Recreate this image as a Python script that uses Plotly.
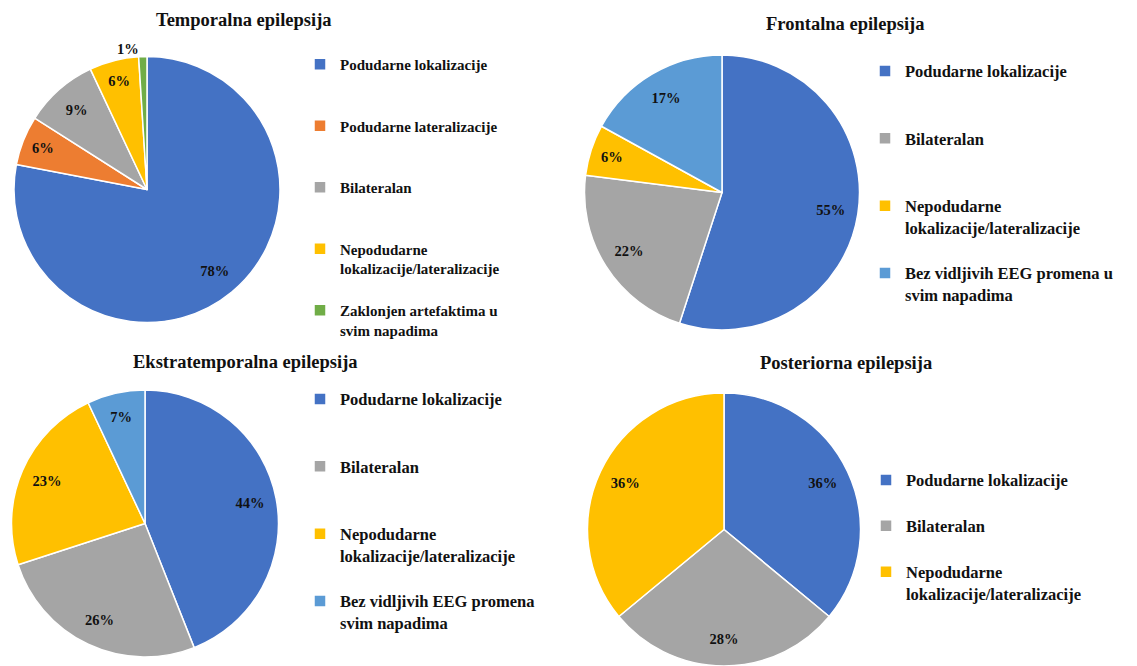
import plotly.graph_objects as go

# ---- data -------------------------------------------------------------
temporal_title = "Temporalna epilepsija"
temporal_labels = [
    "Podudarne lokalizacije",
    "Podudarne lateralizacije",
    "Bilateralan",
    "Nepodudarne<br>lokalizacije/lateralizacije",
    "Zaklonjen artefaktima u<br>svim napadima",
]
temporal_values = [78, 6, 9, 6, 1]

frontal_title = "Frontalna epilepsija"
frontal_labels = [
    "Podudarne lokalizacije",
    "Bilateralan",
    "Nepodudarne<br>lokalizacije/lateralizacije",
    "Bez vidljivih EEG promena u<br>svim napadima",
]
frontal_values = [55, 22, 6, 17]

extratemporal_title = "Ekstratemporalna epilepsija"
extratemporal_labels = [
    "Podudarne lokalizacije",
    "Bilateralan",
    "Nepodudarne<br>lokalizacije/lateralizacije",
    "Bez vidljivih EEG promena<br>svim napadima",
]
extratemporal_values = [44, 26, 23, 7]

posterior_title = "Posteriorna epilepsija"
posterior_labels = [
    "Podudarne lokalizacije",
    "Bilateralan",
    "Nepodudarne<br>lokalizacije/lateralizacije",
]
posterior_values = [36, 28, 36]

# ---- style ------------------------------------------------------------
BLUE, ORANGE, GRAY = "#4472C4", "#ED7D31", "#A5A5A5"
YELLOW, GREEN, LIGHTBLUE = "#FFC000", "#70AD47", "#5B9BD5"
FONT = "Liberation Serif"
INK = "#111111"
W, H = 1137, 666


def px_x(x):
    return x / W


def px_y(y):
    return 1 - y / H


def legend_entries(labels, total_lines, panel_no):
    """Pad legend entries with blank lines so they are spread out (the last
    one needs no padding), and tag them with zero-width characters so each
    panel keeps its own entries (pie legends merge identical labels)."""
    out = []
    for i, label in enumerate(labels):
        n = label.count("<br>") + 1
        pad = 0 if i == len(labels) - 1 else max(0, total_lines - n)
        out.append(label + "<br> " * pad + "\u200b" * panel_no)
    return out


panels = [
    dict(title=temporal_title, labels=temporal_labels, values=temporal_values,
         colors=[BLUE, ORANGE, GRAY, YELLOW, GREEN],
         outside={"Zaklonjen artefaktima u<br>svim napadima"},
         center=(147, 189.5), r=133, legend="legend",
         legend_pos=(300, 48), legend_size=15, legend_lines=3,
         title_pos=(244, 20)),
    dict(title=frontal_title, labels=frontal_labels, values=frontal_values,
         colors=[BLUE, GRAY, YELLOW, LIGHTBLUE], outside=set(),
         center=(722, 192.5), r=137.5, legend="legend2",
         legend_pos=(865, 53.7), legend_size=16.5, legend_lines=3,
         title_pos=(845, 24)),
    dict(title=extratemporal_title, labels=extratemporal_labels,
         values=extratemporal_values,
         colors=[BLUE, GRAY, YELLOW, LIGHTBLUE], outside=set(),
         center=(145, 523.5), r=133.5, legend="legend3",
         legend_pos=(300, 381.7), legend_size=16.5, legend_lines=3,
         title_pos=(245, 362)),
    dict(title=posterior_title, labels=posterior_labels, values=posterior_values,
         colors=[BLUE, GRAY, YELLOW], outside=set(),
         center=(724, 529.5), r=136.5, legend="legend4",
         legend_pos=(866, 462.7), legend_size=16.5, legend_lines=2,
         title_pos=(846, 363)),
]

fig = go.Figure()
layout_legends = {}
annotations = []

for k, p in enumerate(panels, start=1):
    cx, cy = p["center"]
    r = p["r"]
    domain = dict(x=[px_x(cx - r), px_x(cx + r)],
                  y=[max(0, px_y(cy + r)), min(1, px_y(cy - r))])
    entries = legend_entries(p["labels"], p["legend_lines"], k)

    # coloured slices (and the legend entries)
    fig.add_trace(go.Pie(
        labels=entries, values=p["values"], sort=False,
        direction="clockwise", rotation=0, domain=domain,
        marker=dict(colors=p["colors"], line=dict(color="white", width=1.5)),
        textinfo="none", hoverinfo="label+value", legend=p["legend"],
        showlegend=True,
    ))
    # transparent ring layer carrying the percentage labels
    fig.add_trace(go.Pie(
        labels=entries, values=p["values"], sort=False,
        direction="clockwise", rotation=0, domain=domain, hole=0.6,
        marker=dict(colors=["rgba(0,0,0,0)"] * len(p["values"]),
                    line=dict(width=0)),
        texttemplate="%{value}%",
        textposition=["outside" if lab in p["outside"] else "inside"
                      for lab in p["labels"]],
        insidetextorientation="horizontal",
        textfont=dict(family=FONT, size=14.5, color=INK, weight="bold"),
        hoverinfo="skip", showlegend=False, legend=p["legend"],
    ))

    lx, ly = p["legend_pos"]
    layout_legends[p["legend"]] = dict(
        x=px_x(lx), y=px_y(ly), xanchor="left", yanchor="top",
        valign="top", bgcolor="rgba(0,0,0,0)", traceorder="normal",
        font=dict(family=FONT, size=p["legend_size"], color=INK,
                  weight="bold"),
    )

    tx, ty = p["title_pos"]
    annotations.append(dict(
        text=p["title"], x=px_x(tx), y=px_y(ty), xref="paper", yref="paper",
        xanchor="center", yanchor="middle", showarrow=False,
        font=dict(family=FONT, size=18.5, color=INK, weight="bold"),
    ))

fig.update_layout(
    width=W, height=H,
    margin=dict(l=0, r=0, t=0, b=0),
    paper_bgcolor="white", plot_bgcolor="white",
    annotations=annotations,
    **layout_legends,
)

fig.write_html("out.html")
